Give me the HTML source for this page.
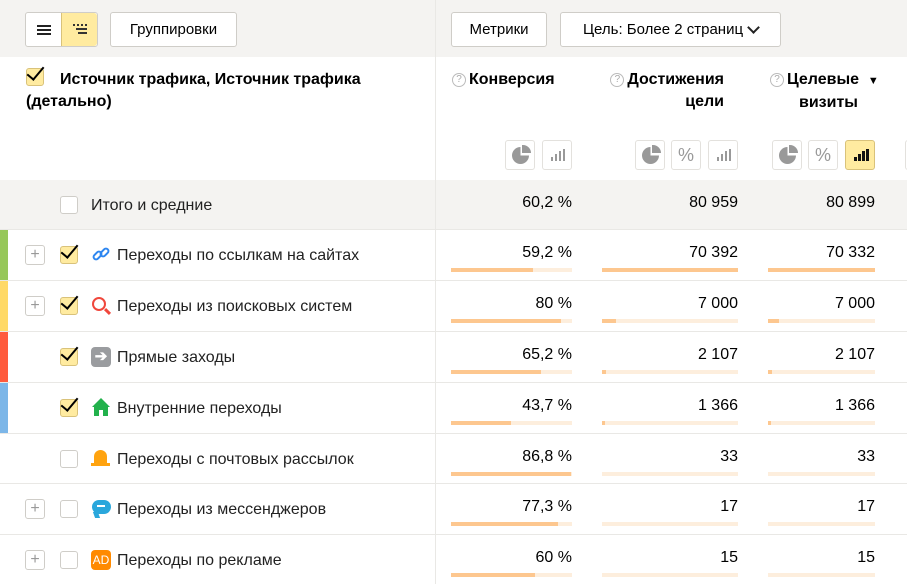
<!DOCTYPE html>
<html><head><meta charset="utf-8"><style>
*{margin:0;padding:0;box-sizing:border-box}
body{width:907px;height:584px;overflow:hidden;background:#fff;font-family:"Liberation Sans",sans-serif;color:#000;position:relative}
.a{position:absolute}
.btn{position:absolute;border:1px solid #cfcdc8;border-radius:3px;background:#fff;font-size:15px;display:flex;align-items:center;justify-content:center}
.row{position:absolute;left:0;width:907px;height:51px;border-top:1px solid #e9e8e5}
.stripe{position:absolute;left:0;top:0;width:8px;height:51px}
.plus{position:absolute;left:25px;top:15px;width:20px;height:20px;border:1px solid #cfcdc8;border-radius:3px;color:#999;font-size:16px;line-height:17px;text-align:center}
.cb{position:absolute;left:60px;top:16px;width:18px;height:18px;border:1px solid #cfcdc8;border-radius:3px;background:#fff}
.cb.on{background:#ffeba0;border-color:#d9c27a}
.cb.on:after{content:"";position:absolute;left:4px;top:-6px;width:7px;height:15px;border-right:2px solid #000;border-bottom:2px solid #000;transform:rotate(40deg)}
.lbl{position:absolute;left:117px;top:17px;font-size:16px;color:#222}
.ic{position:absolute;left:91px;top:15px;width:20px;height:20px}
.v{position:absolute;top:14px;font-size:16px;text-align:right;width:150px}
.bar{position:absolute;top:38px;height:4px;background:#fdeedd}
.bar i{position:absolute;left:0;top:0;height:4px;background:#fdc78f}
.sq{position:absolute;top:140px;width:30px;height:30px;border:1px solid #e3e1dd;border-radius:3px;background:#fff;color:#999;font-size:18px;text-align:center;line-height:28px}
.pie{position:absolute;left:6px;top:6px;width:17px;height:17px;border-radius:50%;background:conic-gradient(#fff 0 90deg,#999 90deg 360deg)}
.pie:after{content:"";position:absolute;left:9px;top:-1px;width:9px;height:8px;background:#999;border-radius:0 8px 0 0;transform:translate(1px,-1px)}
.bars{position:absolute;left:8px;top:8px;width:14px;height:12px}
.bars b{position:absolute;bottom:0;width:2px;background:#999}
.q{display:inline-block;width:14px;height:14px;border:1px solid #bbb;border-radius:50%;font-size:10px;color:#aaa;text-align:center;line-height:12px;font-weight:normal;vertical-align:2px;margin-right:3px}
.h{position:absolute;top:69px;font-size:16px;font-weight:bold;text-align:right;line-height:22px}
</style></head><body>
<div class="a" style="left:0;top:0;width:907px;height:57px;background:#f4f3f1"></div>
<div class="a" style="left:0;top:180px;width:907px;height:50px;background:#f4f3f1"></div>

<div class="btn" style="left:25px;top:12px;width:73px;height:35px;padding:0"></div>
<div class="a" style="left:61px;top:13px;width:36px;height:33px;background:#ffeba0;border-left:1px solid #d9c27a;border-radius:0 3px 3px 0"></div>
<div class="a" style="left:37px;top:25px;width:14px;height:10px;border-top:2px solid #222;border-bottom:2px solid #222"></div>
<div class="a" style="left:37px;top:29px;width:14px;height:2px;background:#222"></div>
<div class="a" style="left:73px;top:24px;width:14px;height:11px;border-top:2px dotted #333"></div>
<div class="a" style="left:76px;top:28px;width:11px;height:2px;background:#333"></div>
<div class="a" style="left:78px;top:32px;width:9px;height:2px;background:#333"></div>
<div class="btn" style="left:110px;top:12px;width:127px;height:35px">Группировки</div>
<div class="btn" style="left:451px;top:12px;width:96px;height:35px">Метрики</div>
<div class="btn" style="left:560px;top:12px;width:221px;height:35px">Цель: Более 2 страниц <span style="display:inline-block;width:9px;height:9px;border-right:2px solid #222;border-bottom:2px solid #222;transform:rotate(45deg);margin:-5px 0 0 6px"></span></div>

<div class="cb on" style="left:26px;top:68px"></div>
<div class="a" style="left:26px;top:69px;width:400px;font-size:16px;font-weight:bold;line-height:22px;text-indent:34px">Источник трафика, Источник трафика (детально)</div>

<div class="h" style="left:440px;width:120px;text-align:left;padding-left:12px"><span class="q">?</span>Конверсия</div>
<div class="h" style="left:600px;width:124px"><span class="q">?</span>Достижения<br>цели</div>
<div class="h" style="left:760px;width:120px;text-align:left;padding-left:10px"><span class="q">?</span>Целевые&nbsp;&nbsp;<span style="font-size:11px">▼</span><br><span style="padding-left:29px">визиты</span></div>

<div class="sq" style="left:505px"><div class="pie"></div></div>
<div class="sq" style="left:542px"><div class="bars"><b style="left:0;height:4px"></b><b style="left:4px;height:7px"></b><b style="left:8px;height:10px"></b><b style="left:12px;height:12px"></b></div></div>
<div class="sq" style="left:635px"><div class="pie"></div></div><div class="sq" style="left:671px">%</div>
<div class="sq" style="left:708px"><div class="bars"><b style="left:0;height:4px"></b><b style="left:4px;height:7px"></b><b style="left:8px;height:10px"></b><b style="left:12px;height:12px"></b></div></div>
<div class="sq" style="left:772px"><div class="pie"></div></div><div class="sq" style="left:808px">%</div>
<div class="sq" style="left:845px;background:#ffeba0;border-color:#d9c27a"><div class="bars"><b style="left:0;height:4px;background:#111;width:3px"></b><b style="left:4px;height:7px;background:#111;width:3px"></b><b style="left:8px;height:10px;background:#111;width:3px"></b><b style="left:12px;height:12px;background:#111;width:3px"></b></div></div>
<div class="sq" style="left:905px"></div>

<div class="row" style="top:180px;border:none;height:50px">
<div class="cb"></div><div class="a" style="left:91px;top:17px;font-size:16px;color:#222">Итого и средние</div>
<div class="v" style="left:422px">60,2 %</div><div class="v" style="left:588px">80 959</div><div class="v" style="left:725px">80 899</div>
</div>

<div class="row" style="top:229px">
<div class="stripe" style="background:#97c75a"></div><div class="plus">+</div><div class="cb on"></div>
<div class="ic"><div class="a" style="left:1px;top:7px;width:11px;height:7px;border:2px solid #2d86f0;border-radius:4px;transform:rotate(-45deg)"></div><div class="a" style="left:8px;top:4px;width:11px;height:7px;border:2px solid #2d86f0;border-radius:4px;transform:rotate(-45deg)"></div></div>
<div class="lbl">Переходы по ссылкам на сайтах</div>
<div class="v" style="left:422px">59,2 %</div><div class="v" style="left:588px">70 392</div><div class="v" style="left:725px">70 332</div>
<div class="bar" style="left:451px;width:121px"><i style="width:82px"></i></div><div class="bar" style="left:602px;width:136px"><i style="width:136px"></i></div><div class="bar" style="left:768px;width:107px"><i style="width:107px"></i></div>
</div>

<div class="row" style="top:280px">
<div class="stripe" style="background:#ffd966"></div><div class="plus">+</div><div class="cb on"></div>
<div class="ic"><div class="a" style="left:1px;top:1px;width:14px;height:14px;border:2px solid #f0473c;border-radius:50%"></div><div class="a" style="left:13px;top:14px;width:7px;height:3px;background:#f0473c;transform:rotate(45deg)"></div></div>
<div class="lbl">Переходы из поисковых систем</div>
<div class="v" style="left:422px">80 %</div><div class="v" style="left:588px">7 000</div><div class="v" style="left:725px">7 000</div>
<div class="bar" style="left:451px;width:121px"><i style="width:110px"></i></div><div class="bar" style="left:602px;width:136px"><i style="width:14px"></i></div><div class="bar" style="left:768px;width:107px"><i style="width:11px"></i></div>
</div>

<div class="row" style="top:331px">
<div class="stripe" style="background:#ff5b3d"></div><div class="cb on"></div>
<div class="ic" style="background:#9a9c9f;border-radius:4px;color:#fff;font-size:15px;line-height:20px;text-align:center;font-weight:bold">➔</div>
<div class="lbl">Прямые заходы</div>
<div class="v" style="left:422px">65,2 %</div><div class="v" style="left:588px">2 107</div><div class="v" style="left:725px">2 107</div>
<div class="bar" style="left:451px;width:121px"><i style="width:90px"></i></div><div class="bar" style="left:602px;width:136px"><i style="width:4px"></i></div><div class="bar" style="left:768px;width:107px"><i style="width:4px"></i></div>
</div>

<div class="row" style="top:382px">
<div class="stripe" style="background:#7cb6e8"></div><div class="cb on"></div>
<div class="ic"><div class="a" style="left:1px;top:0;width:0;height:0;border-left:9px solid transparent;border-right:9px solid transparent;border-bottom:9px solid #22b14c"></div><div class="a" style="left:3px;top:9px;width:14px;height:9px;background:#22b14c"></div><div class="a" style="left:8px;top:12px;width:4px;height:6px;background:#fff"></div></div>
<div class="lbl">Внутренние переходы</div>
<div class="v" style="left:422px">43,7 %</div><div class="v" style="left:588px">1 366</div><div class="v" style="left:725px">1 366</div>
<div class="bar" style="left:451px;width:121px"><i style="width:60px"></i></div><div class="bar" style="left:602px;width:136px"><i style="width:3px"></i></div><div class="bar" style="left:768px;width:107px"><i style="width:3px"></i></div>
</div>

<div class="row" style="top:433px">
<div class="cb"></div>
<div class="ic"><div class="a" style="left:3px;top:1px;width:13px;height:15px;background:#ffa30f;border-radius:7px 7px 1px 1px"></div><div class="a" style="left:0;top:14px;width:19px;height:3px;background:#ffa30f"></div></div>
<div class="lbl">Переходы с почтовых рассылок</div>
<div class="v" style="left:422px">86,8 %</div><div class="v" style="left:588px">33</div><div class="v" style="left:725px">33</div>
<div class="bar" style="left:451px;width:121px"><i style="width:120px"></i></div><div class="bar" style="left:602px;width:136px"></div><div class="bar" style="left:768px;width:107px"></div>
</div>

<div class="row" style="top:483px">
<div class="plus">+</div><div class="cb"></div>
<div class="ic"><div class="a" style="left:1px;top:1px;width:19px;height:14px;background:#2aa7dc;border-radius:7px"></div><div class="a" style="left:3px;top:13px;width:5px;height:6px;background:#2aa7dc;transform:skewX(20deg)"></div><div class="a" style="left:6px;top:6px;width:8px;height:2px;background:#fff"></div></div>
<div class="lbl">Переходы из мессенджеров</div>
<div class="v" style="left:422px">77,3 %</div><div class="v" style="left:588px">17</div><div class="v" style="left:725px">17</div>
<div class="bar" style="left:451px;width:121px"><i style="width:107px"></i></div><div class="bar" style="left:602px;width:136px"></div><div class="bar" style="left:768px;width:107px"></div>
</div>

<div class="row" style="top:534px">
<div class="plus">+</div><div class="cb"></div>
<div class="ic" style="background:#ff8a00;border-radius:4px;color:#fff;font-size:12px;line-height:20px;text-align:center">AD</div>
<div class="lbl">Переходы по рекламе</div>
<div class="v" style="left:422px">60 %</div><div class="v" style="left:588px">15</div><div class="v" style="left:725px">15</div>
<div class="bar" style="left:451px;width:121px"><i style="width:84px"></i></div><div class="bar" style="left:602px;width:136px"></div><div class="bar" style="left:768px;width:107px"></div>
</div>
<div class="a" style="left:435px;top:0;width:1px;height:584px;background:#e9e8e5"></div>
</body></html>
